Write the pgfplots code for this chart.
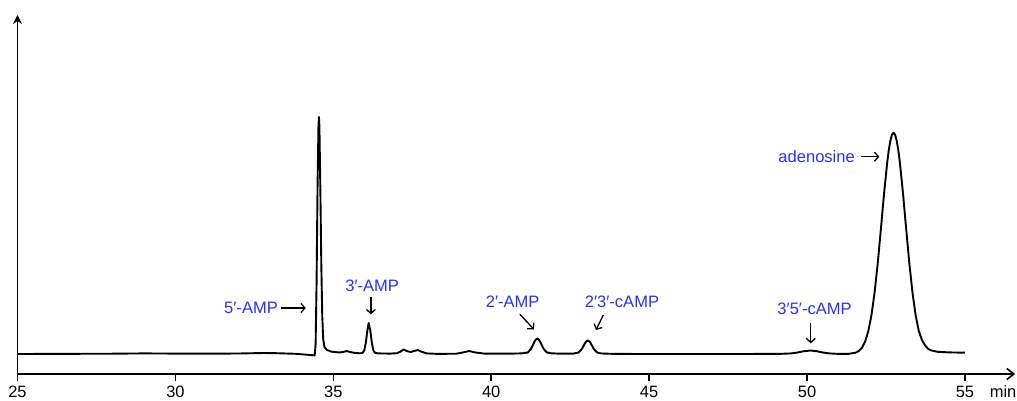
\documentclass[border=0pt]{standalone}
\usepackage{pgfplots}
\pgfplotsset{compat=1.18}
\usepackage{fontspec}
\setmainfont{Liberation Sans}
\usetikzlibrary{arrows.meta}
\definecolor{lblue}{RGB}{38,50,245}
\begin{document}
\begin{tikzpicture}
\useasboundingbox (-17.5bp,-27bp) rectangle (999.5bp,374bp);
\begin{axis}[
  x=31.58bp, y=1bp,
  xmin=25, xmax=56.59, ymin=0, ymax=359,
  axis lines=left,
  enlargelimits=false,
  clip=false,
  axis line style={line width=1.6bp, black},
  x axis line style={-{Straight Barb[length=7bp,width=11bp,line width=1.6bp]}},
  y axis line style={-{Stealth[length=9bp,width=9bp]}},
  xtick={25,30,35,40,45,50,55},
  ytick=\empty,
  tick align=outside,
  major tick length=7bp,
  tick style={line width=1.6bp, black},
  xticklabel style={font=\fontsize{16.5}{19}\selectfont, inner sep=2bp, yshift=-3bp},
  /pgf/number format/assume math mode=true,
]
\addplot[black, line width=1.9bp, line join=round, mark=none] coordinates {
(25,20) (26,20.1) (27,20.2) (28,20.3) (29,20.6) (30,20.4) (31,20.3) (32,20.5)
(32.8,21) (33.2,20.8) (33.8,20.2) (34.2,19.2) (34.41,18.6)
(34.44,30) (34.47,90) (34.50,185) (34.53,248) (34.545,257) (34.56,248)
(34.59,185) (34.62,110) (34.65,58) (34.68,35) (34.72,27) (34.8,24)
(34.95,22.3) (35.2,21.5) (35.35,22.3) (35.42,23) (35.5,22.3) (35.65,21.2)
(35.85,20.7) (35.93,21.2) (35.98,23.5) (36.03,31.3) (36.08,43.8) (36.12,51)
(36.17,43.8) (36.22,31.3) (36.27,23.5) (36.32,21.2) (36.42,20.6)
(36.8,20.4) (37.02,20.8) (37.12,22.3) (37.23,24.5) (37.34,22.8) (37.45,22)
(37.56,23) (37.68,24) (37.8,22.2) (37.95,20.6) (38.3,20.1) (38.9,20.3)
(39.1,21.5) (39.3,23) (39.5,21.5) (39.8,20.3) (40.5,20.3)
(40.96,20.6) (41.16,21.5) (41.26,25.1) (41.36,31.7) (41.41,34.3) (41.46,35.5) (41.51,34.3) (41.56,31.7)
(41.66,25.1) (41.76,21.6) (41.9,20.7) (42.2,20.3) (42.6,20.4)
(42.76,21.4) (42.86,24.5) (42.96,30.2) (43.01,32.6) (43.06,33.5) (43.11,32.6) (43.16,30.2) (43.26,24.5)
(43.36,21.4) (43.5,20.5) (43.9,20.1) (45,20) (46.5,20) (48,20) (49.2,20.2)
(49.5,20.6) (49.7,21.5) (49.9,22.8) (50.1,23.5) (50.3,22.8) (50.5,21.5)
(50.7,20.6) (51.0,20.1) (51.3,20.1) (51.54,21.3) (51.64,23) (51.74,26.3)
(51.84,32.4) (51.94,42.7) (52.04,58.7) (52.14,81.4) (52.24,110.8)
(52.34,145.1) (52.44,180.5) (52.54,211.7) (52.59,224) (52.64,233.3) (52.69,239.3) (52.74,241.3)
(52.79,239.3) (52.84,233.3) (52.89,224) (52.94,211.7) (53.04,180.5) (53.14,145.1) (53.24,110.8)
(53.34,81.4) (53.44,58.7) (53.54,43) (53.64,34) (53.74,28.5) (53.84,25)
(53.94,23.5) (54.14,22.2) (54.5,21.6) (55,21.3)
};
% annotations
\tikzset{ann/.style={-{Straight Barb[length=4bp,width=9bp,line width=1.3bp]}, line width=1.3bp, black},
         lab/.style={text=lblue, font=\fontsize{16.6}{19}\selectfont, inner sep=0pt}}
\node[lab, anchor=east] at (axis cs:33.25,66) {5′-AMP};
\draw[ann] (axis cs:33.34,66) -- (axis cs:34.13,66);
\node[lab] at (axis cs:36.23,88) {3′-AMP};
\draw[ann] (axis cs:36.19,77.3) -- (axis cs:36.19,59.7);
\node[lab] at (axis cs:40.68,72.3) {2′-AMP};
\draw[ann] (axis cs:40.91,59.7) -- (axis cs:41.35,44.7);
\node[lab] at (axis cs:44.14,72.3) {2′3′-cAMP};
\draw[ann] (axis cs:43.55,59) -- (axis cs:43.32,44);
\node[lab] at (axis cs:50.24,64.7) {3′5′-cAMP};
\draw[ann] (axis cs:50.12,50.7) -- (axis cs:50.12,30.7);
\node[lab, anchor=east] at (axis cs:51.52,217.3) {adenosine};
\draw[ann] (axis cs:51.70,217.3) -- (axis cs:52.29,217.3);
\node[font=\fontsize{16.5}{19}\selectfont, inner sep=0pt] at (axis cs:56.21,-18) {min};
\end{axis}
\end{tikzpicture}
\end{document}
